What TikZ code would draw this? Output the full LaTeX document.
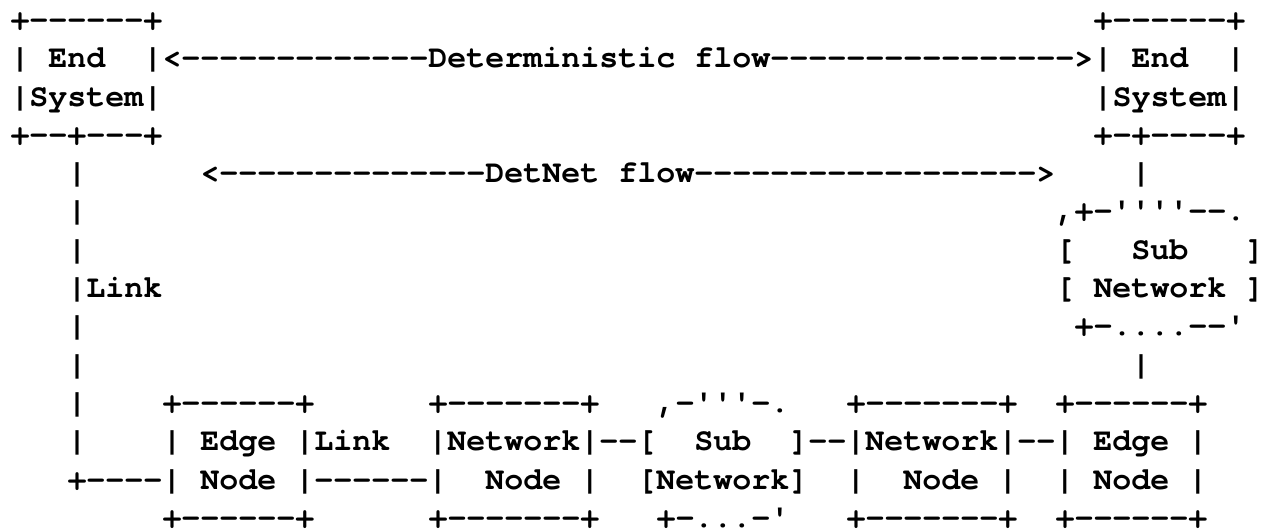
\documentclass[tikz,border=0pt]{standalone}
\usepackage{fontspec}
\setmonofont{TeX Gyre Cursor}[Ligatures=NoCommon]
\ExplSyntaxOn
\NewDocumentCommand{\rep}{mm}{\prg_replicate:nn{#1}{#2}}
\ExplSyntaxOff
\newcommand{\asciifont}{\ttfamily\bfseries\fontsize{31.66pt}{38.3pt}\selectfont}
\tikzset{asc/.style={anchor=base west, inner sep=0pt, outer sep=0pt, font=\asciifont, text=black}}
\begin{document}
\begin{tikzpicture}[x=1pt, y=-1pt]
\useasboundingbox (0,0) rectangle (1264,529);
\fill[white] (0,0) rectangle (1264,529);
% column c left edge: 10.5+19c ; row r baseline: 29.5+38.3(r-1)
% row 1
\node[asc] (esl1) at ({10.5+19*0},{29.5+38.3*0}) {+------+};
\node[asc] (esr1) at ({10.5+19*57},{29.5+38.3*0}) {+------+};
% row 2
\node[asc] (esl2) at ({10.5+19*0},{29.5+38.3*1}) {|~End~~|};
\node[asc] (detflow) at ({10.5+19*8},{29.5+38.3*1}) {<\rep{13}{-}Deterministic~flow\rep{16}{-}>};
\node[asc] (esr2) at ({10.5+19*57},{29.5+38.3*1}) {|~End~~|};
% row 3
\node[asc] (esl3) at ({10.5+19*0},{29.5+38.3*2}) {|System|};
\node[asc] (esr3) at ({10.5+19*57},{29.5+38.3*2}) {|System|};
% row 4
\node[asc] (esl4) at ({10.5+19*0},{29.5+38.3*3}) {+--+---+};
\node[asc] (esr4) at ({10.5+19*57},{29.5+38.3*3}) {+-+----+};
% row 5
\node[asc] (ll5) at ({10.5+19*3},{29.5+38.3*4}) {|};
\node[asc] (dnflow) at ({10.5+19*10},{29.5+38.3*4}) {<\rep{14}{-}DetNet~flow\rep{18}{-}>};
\node[asc] (rl5) at ({10.5+19*59},{29.5+38.3*4}) {|};
% row 6
\node[asc] (ll6) at ({10.5+19*3},{29.5+38.3*5}) {|};
\node[asc] (sn6) at ({10.5+19*55},{29.5+38.3*5}) {,+-''''--.};
% row 7
\node[asc] (ll7) at ({10.5+19*3},{29.5+38.3*6}) {|};
\node[asc] (sn7) at ({10.5+19*55},{29.5+38.3*6}) {[~~~Sub~~~]};
% row 8
\node[asc] (ll8) at ({10.5+19*3},{29.5+38.3*7}) {|Link};
\node[asc] (sn8) at ({10.5+19*55},{29.5+38.3*7}) {[~Network~]};
% row 9
\node[asc] (ll9) at ({10.5+19*3},{29.5+38.3*8}) {|};
\node[asc] (sn9) at ({10.5+19*56},{29.5+38.3*8}) {+-....--'};
% row 10
\node[asc] (ll10) at ({10.5+19*3},{29.5+38.3*9}) {|};
\node[asc] (rl10) at ({10.5+19*59},{29.5+38.3*9}) {|};
% row 11
\node[asc] (ll11) at ({10.5+19*3},{29.5+38.3*10}) {|};
\node[asc] (en11) at ({10.5+19*8},{29.5+38.3*10}) {+------+};
\node[asc] (nn11) at ({10.5+19*22},{29.5+38.3*10}) {+-------+};
\node[asc] (sb11) at ({10.5+19*34},{29.5+38.3*10}) {,-'''-.};
\node[asc] (nr11) at ({10.5+19*44},{29.5+38.3*10}) {+-------+};
\node[asc] (er11) at ({10.5+19*55},{29.5+38.3*10}) {+------+};
% row 12
\node[asc] (ll12) at ({10.5+19*3},{29.5+38.3*11}) {|};
\node[asc] (mid12) at ({10.5+19*8},{29.5+38.3*11}) {|~Edge~|Link~~|Network|--[~~Sub~~]--|Network|--|~Edge~|};
% row 13
\node[asc] (mid13) at ({10.5+19*3},{29.5+38.3*12}) {+----|~Node~|------|~~Node~|~~[Network]~~|~~Node~|~~|~Node~|};
% row 14
\node[asc] (en14) at ({10.5+19*8},{29.5+38.3*13}) {+------+};
\node[asc] (nn14) at ({10.5+19*22},{29.5+38.3*13}) {+-------+};
\node[asc] (sb14) at ({10.5+19*34},{29.5+38.3*13}) {+-...-'};
\node[asc] (nr14) at ({10.5+19*44},{29.5+38.3*13}) {+-------+};
\node[asc] (er14) at ({10.5+19*55},{29.5+38.3*13}) {+------+};
\end{tikzpicture}
\end{document}
